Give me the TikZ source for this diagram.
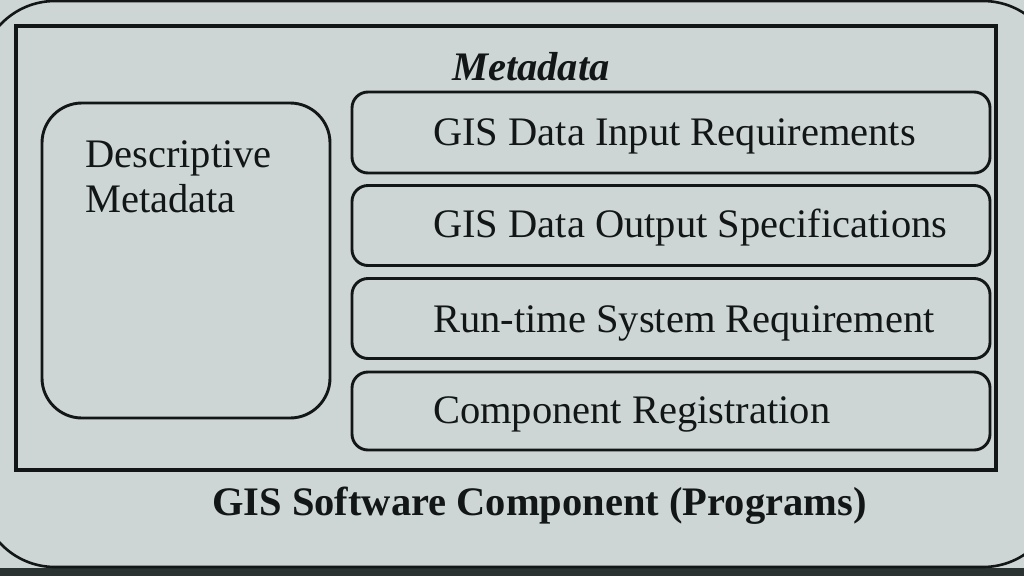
\documentclass[tikz,border=0pt]{standalone}
\usepackage{fontspec}
\setmainfont{Liberation Serif}
\definecolor{bgc}{RGB}{206,213,213}
\definecolor{inkc}{RGB}{18,22,22}
\definecolor{stripc}{RGB}{42,50,50}
\tikzset{
  rbox/.style={draw=inkc, line width=2.9pt, rounded corners=16pt, inner sep=0pt},
  lbox/.style={draw=inkc, line width=2.9pt, rounded corners=40pt, inner sep=0pt},
  lbl/.style={inner sep=0pt, anchor=base west, text=inkc, font=\fontsize{40.5}{45}\selectfont},
}
\begin{document}
\begin{tikzpicture}[x=1pt,y=-1pt]
\useasboundingbox (0,0) rectangle (1024,576);
\fill[bgc] (0,0) rectangle (1024,576);
\fill[stripc] (0,568) rectangle (1024,576);
% outer rounded frame
\draw[inkc, line width=2.6pt, rounded corners=75pt] (-20,1) rectangle (1058,567);
% inner frame
\node[draw=inkc, line width=3.2pt, inner sep=0pt, minimum width=980pt, minimum height=444pt] (frame) at (506,248) {};
% left box
\node[lbox, minimum width=288pt, minimum height=315pt] (desc) at (186,260.5) {};
% right boxes
\node[rbox, minimum width=638pt, minimum height=81pt] (b1) at (671,132.5) {};
\node[rbox, minimum width=638pt, minimum height=80pt] (b2) at (671,225.5) {};
\node[rbox, minimum width=638pt, minimum height=80pt] (b3) at (671,318.5) {};
\node[rbox, minimum width=638pt, minimum height=78pt] (b4) at (671,411) {};
% texts
\node[lbl, font=\fontsize{40.5}{45}\selectfont\bfseries\itshape] (mt) at (452,80) {Metadata};
\node[lbl] (d1) at (85,167) {Descriptive};
\node[lbl] (d2) at (85,212) {Metadata};
\node[lbl] (t1) at (433,145) {GIS Data Input Requirements};
\node[lbl] (t2) at (433,237) {GIS Data Output Specifications};
\node[lbl] (t3) at (433,332) {Run-time System Requirement};
\node[lbl] (t4) at (433,423) {Component Registration};
\node[lbl, font=\fontsize{40.5}{45}\selectfont\bfseries] (bt) at (212,515) {GIS Software Component (Programs)};
\end{tikzpicture}
\end{document}
